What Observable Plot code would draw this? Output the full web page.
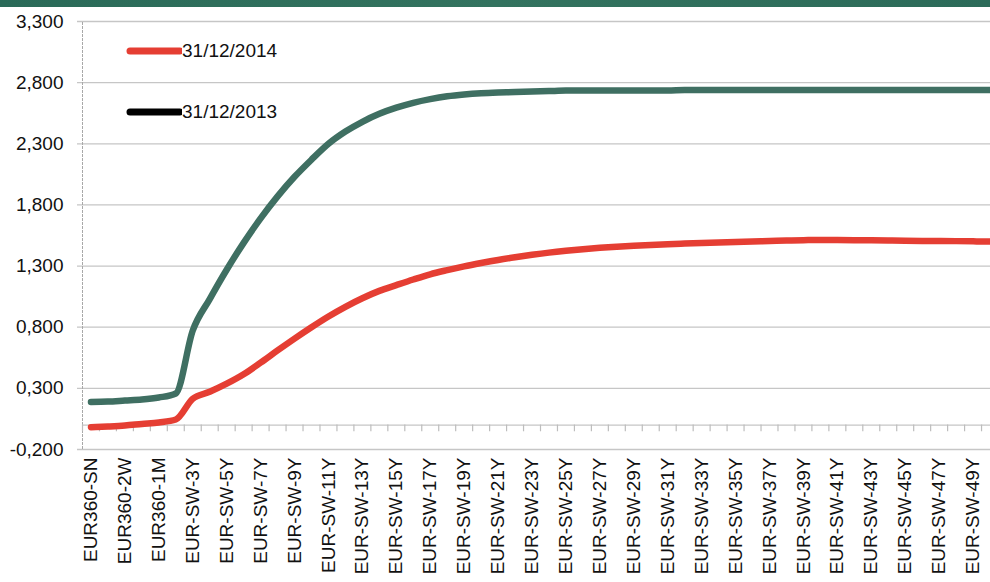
<!DOCTYPE html>
<html>
<head>
<meta charset="utf-8">
<script src="https://cdn.jsdelivr.net/npm/d3@7"></script>
<script src="https://cdn.jsdelivr.net/npm/@observablehq/plot@0.6"></script>
<style>
  html, body { margin: 0; padding: 0; background: #fff; overflow: hidden; }
  body { width: 990px; height: 582px; position: relative; font-family: "Liberation Sans", Arial, sans-serif; }
  #band { position: absolute; left: 0; top: 0; width: 990px; height: 7px; background: linear-gradient(90deg, #2a6a58, #33735f 50%, #2c6b59); z-index: 2; }
  #chart { position: absolute; left: 0; top: 0; }
  .legend { position: absolute; left: 124px; z-index: 3; display: flex; align-items: center; font-size: 19px; color: #111; }
  .legend svg { display: block; }
</style>
</head>
<body>
<div id="band"></div>
<div id="chart"></div>
<div class="legend" style="top:38px"><svg width="58" height="26"><line x1="6" y1="13" x2="56" y2="13" stroke="#e53e33" stroke-width="7" stroke-linecap="round"/></svg><span>31/12/2014</span></div>
<div class="legend" style="top:99px"><svg width="58" height="26"><line x1="6" y1="13" x2="56" y2="13" stroke="#000" stroke-width="7" stroke-linecap="round"/></svg><span>31/12/2013</span></div>
<script>
const categories = [
  "EUR360-SN","EUR360-1W","EUR360-2W","EUR360-3W","EUR360-1M","EUR-SW-2Y",
  "EUR-SW-3Y","EUR-SW-4Y","EUR-SW-5Y","EUR-SW-6Y","EUR-SW-7Y","EUR-SW-8Y",
  "EUR-SW-9Y","EUR-SW-10Y","EUR-SW-11Y","EUR-SW-12Y","EUR-SW-13Y","EUR-SW-14Y",
  "EUR-SW-15Y","EUR-SW-16Y","EUR-SW-17Y","EUR-SW-18Y","EUR-SW-19Y","EUR-SW-20Y",
  "EUR-SW-21Y","EUR-SW-22Y","EUR-SW-23Y","EUR-SW-24Y","EUR-SW-25Y","EUR-SW-26Y",
  "EUR-SW-27Y","EUR-SW-28Y","EUR-SW-29Y","EUR-SW-30Y","EUR-SW-31Y","EUR-SW-32Y",
  "EUR-SW-33Y","EUR-SW-34Y","EUR-SW-35Y","EUR-SW-36Y","EUR-SW-37Y","EUR-SW-38Y",
  "EUR-SW-39Y","EUR-SW-40Y","EUR-SW-41Y","EUR-SW-42Y","EUR-SW-43Y","EUR-SW-44Y",
  "EUR-SW-45Y","EUR-SW-46Y","EUR-SW-47Y","EUR-SW-48Y","EUR-SW-49Y","EUR-SW-50Y"
];

// 31/12/2013 (dark green line)
const curve2013 = [
  0.188, 0.192, 0.200, 0.208, 0.225, 0.258,
  0.773, 1.030, 1.270, 1.490, 1.690, 1.870,
  2.030, 2.170, 2.300, 2.400, 2.480, 2.545,
  2.595, 2.635, 2.665, 2.688, 2.703, 2.713,
  2.719, 2.723, 2.727, 2.731, 2.735, 2.735,
  2.735, 2.735, 2.735, 2.735, 2.735, 2.739,
  2.739, 2.739, 2.739, 2.739, 2.739, 2.739,
  2.739, 2.739, 2.739, 2.739, 2.739, 2.739,
  2.739, 2.739, 2.739, 2.739, 2.739, 2.739
];

// 31/12/2014 (red line)
const curve2014 = [
  -0.018, -0.012, -0.004, 0.009, 0.021, 0.045,
  0.215, 0.272, 0.338, 0.415, 0.510, 0.610,
  0.707, 0.800, 0.888, 0.967, 1.037, 1.097,
  1.144, 1.190, 1.233, 1.267, 1.298, 1.325,
  1.350, 1.372, 1.392, 1.410, 1.425, 1.438,
  1.449, 1.458, 1.466, 1.473, 1.479, 1.484,
  1.489, 1.493, 1.497, 1.501, 1.505, 1.509,
  1.512, 1.513, 1.513, 1.512, 1.511, 1.509,
  1.508, 1.506, 1.505, 1.504, 1.502, 1.501
];

const yTicks = [-0.2, 0.3, 0.8, 1.3, 1.8, 2.3, 2.8, 3.3];
const seriesNames = ["31/12/2014", "31/12/2013"];
const seriesColors = ["#e53e33", "#3f6f62"];

const locale = d3.formatLocale({decimal: ",", thousands: ".", grouping: [3], currency: ["", ""], minus: "-"});
const fmt = locale.format(".3f");

const idx = categories.map((d, i) => i);
const rows2014 = idx.map(i => ({i, v: curve2014[i]}));
const rows2013 = idx.map(i => ({i, v: curve2013[i]}));
const labelIdx = idx.filter(i => i % 2 === 0);
const boundaries = categories.map((d, i) => i - 0.5).concat([categories.length - 0.5]);

const chart = Plot.plot({
  width: 990,
  height: 582,
  marginTop: 21,
  marginBottom: 133,
  marginLeft: 82,
  marginRight: 0,
  style: {fontFamily: "'Liberation Sans', Arial, sans-serif", fontSize: "19px", color: "#111", background: "transparent", overflow: "hidden"},
  x: {
    type: "linear",
    domain: [-0.5, categories.length - 0.5],
    range: [82, 998],
    ticks: labelIdx,
    tickFormat: i => categories[i],
    tickRotate: -90,
    tickSize: 0,
    tickPadding: 8,
    label: null
  },
  y: {
    domain: [-0.2, 3.3],
    ticks: yTicks,
    tickFormat: fmt,
    tickSize: 0,
    tickPadding: 19,
    label: null
  },
  marks: [
    Plot.ruleY(yTicks, {stroke: "#c6c6c6", strokeWidth: 1.3, insetLeft: -5}),
    Plot.ruleX([-0.5], {y1: -0.2, y2: 3.3, stroke: "#a8a8a8", strokeWidth: 1, strokeDasharray: "3,1"}),
    Plot.ruleY([0], {stroke: "#c6c6c6", strokeWidth: 1.3}),
    Plot.ruleX(boundaries, {x: d => d, y1: 0, y2: -0.055, stroke: "#bdbdbd", strokeWidth: 1.2}),
    Plot.line(rows2014, {x: "i", y: "v", stroke: seriesColors[0], strokeWidth: 6.5, curve: "monotone-x", strokeLinecap: "round"}),
    Plot.line(rows2013, {x: "i", y: "v", stroke: seriesColors[1], strokeWidth: 6.5, curve: "monotone-x", strokeLinecap: "round"})
  ]
});
document.getElementById("chart").appendChild(chart);
</script>
</body>
</html>
